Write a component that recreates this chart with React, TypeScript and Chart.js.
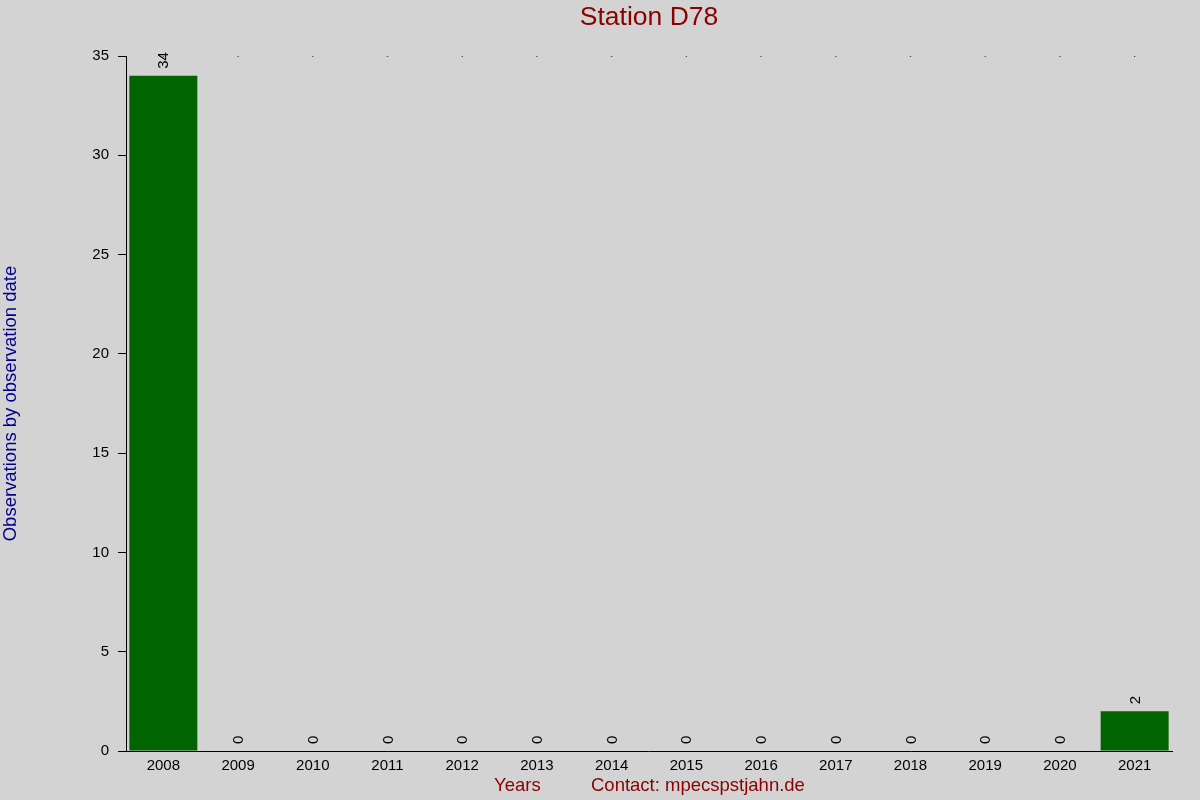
import React, { useEffect, useRef } from "react";
import { Chart, registerables, ChartConfiguration, Plugin } from "chart.js";

Chart.register(...registerables);

const years = ["2008", "2009", "2010", "2011", "2012", "2013", "2014",
    "2015", "2016", "2017", "2018", "2019", "2020", "2021"];
const observations = [34, 0, 0, 0, 0, 0, 0, 0, 0, 0, 0, 0, 0, 2];
// the small dots on the top edge of the plot
const topDots = [35, 35, 35, 35, 35, 35, 35, 35, 35, 35, 35, 35, 35, 35];
const yTicks = [0, 5, 10, 15, 20, 25, 30, 35];

const FONT = "'Liberation Sans', Arial, sans-serif";
const BG = "#d3d3d3";
const RED = "#8b0000";
const BLUE = "#00008b";

// background, titles and rotated value labels
const decor: Plugin = {
    id: "decor",
    beforeDraw: (chart) => {
        const ctx = chart.ctx;
        ctx.save();
        ctx.fillStyle = BG;
        ctx.fillRect(0, 0, chart.width, chart.height);
        ctx.restore();
    },
    afterDraw: (chart) => {
        const ctx = chart.ctx;
        const area = chart.chartArea;
        ctx.save();
        ctx.fillStyle = RED;
        ctx.textAlign = "center";
        ctx.textBaseline = "middle";
        ctx.font = `26.5px ${FONT}`;
        ctx.fillText("Station D78", (area.left + area.right) / 2, 18);

        ctx.font = `18.5px ${FONT}`;
        ctx.textAlign = "left";
        ctx.fillText("Years", 494, 786);
        ctx.fillText("Contact: mpecspstjahn.de", 591, 786);

        ctx.fillStyle = BLUE;
        ctx.translate(11, (area.top + area.bottom) / 2);
        ctx.rotate(-Math.PI / 2);
        ctx.textAlign = "center";
        ctx.fillText("Observations by observation date", 0, 0);
        ctx.restore();

        const meta = chart.getDatasetMeta(0);
        ctx.save();
        ctx.fillStyle = "#000";
        ctx.font = `15px ${FONT}`;
        ctx.textAlign = "left";
        ctx.textBaseline = "middle";
        meta.data.forEach((bar: any, i) => {
            ctx.save();
            ctx.translate(bar.x + 1, bar.y - 7);
            ctx.rotate(-Math.PI / 2);
            ctx.fillText(String(observations[i]), 0, 0);
            ctx.restore();
        });
        ctx.restore();
    },
};

const config: ChartConfiguration = {
    type: "bar",
    data: {
        labels: years,
        datasets: [
            {
                type: "bar",
                data: observations,
                backgroundColor: "#006400",
                borderWidth: 0,
                barPercentage: 0.91,
                categoryPercentage: 1,
                order: 2,
            },
            {
                type: "line",
                data: topDots,
                showLine: false,
                pointRadius: 0.8,
                pointBorderWidth: 0,
                pointBackgroundColor: "#000",
                order: 1,
            } as any,
        ],
    },
    options: {
        responsive: false,
        animation: false,
        layout: { padding: { left: 0, top: 56, right: 28, bottom: 0 } },
        plugins: {
            legend: { display: false },
            title: { display: false },
            tooltip: { enabled: false },
        },
        scales: {
            x: {
                offset: true,
                grid: { display: false, drawTicks: false },
                border: { display: true, color: "#000", width: 1 },
                ticks: {
                    color: "#000",
                    font: { family: FONT, size: 15 },
                    padding: 6,
                    maxRotation: 0,
                    autoSkip: false,
                },
                afterFit: (scale) => { scale.height = 49; },
            },
            y: {
                min: 0,
                max: 35,
                afterBuildTicks: (scale) => {
                    scale.ticks = yTicks.map((v) => ({ value: v }));
                },
                grid: {
                    drawOnChartArea: false,
                    drawTicks: true,
                    tickLength: 8,
                    color: "#000",
                },
                border: { display: true, color: "#000", width: 1 },
                ticks: {
                    color: "#000",
                    font: { family: FONT, size: 15 },
                    padding: 9,
                },
                afterFit: (scale) => { scale.width = 126; },
            },
        },
    },
    plugins: [decor],
};

export default function App() {
    const canvas = useRef<HTMLCanvasElement>(null);
    useEffect(() => {
        document.body.style.margin = "0";
        document.body.style.background = BG;
        const chart = new Chart(canvas.current!.getContext("2d")!, config);
        return () => chart.destroy();
    }, []);
    return (
        <div style={{ width: 1200, height: 800, background: BG }}>
            <canvas ref={canvas} width={1200} height={800}
                style={{ display: "block" }} />
        </div>
    );
}
